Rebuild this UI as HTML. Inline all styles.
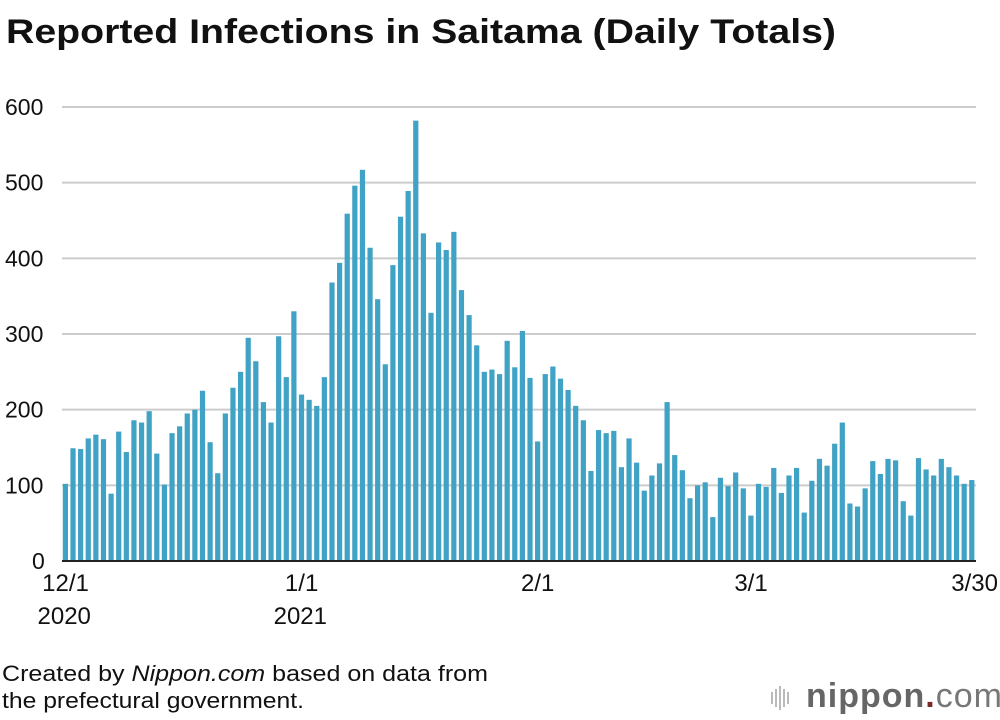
<!DOCTYPE html>
<html><head><meta charset="utf-8">
<style>
body{margin:0;background:#fff;width:1000px;height:720px;overflow:hidden;font-family:"Liberation Sans",sans-serif;}
svg{display:block}
</style></head>
<body>
<svg id="chart" width="1000" height="720">
<text x="6" y="43" font-size="34" font-weight="bold" fill="#111" textLength="830" lengthAdjust="spacingAndGlyphs">Reported Infections in Saitama (Daily Totals)</text>
<g id="grid"></g>
<g id="bars"></g>
<g id="xlabels"></g>
<line x1="62" x2="976" y1="561" y2="561" stroke="#222" stroke-width="2"/>
<text x="2" y="681" font-size="22" fill="#111" textLength="486" lengthAdjust="spacingAndGlyphs">Created by <tspan font-style="italic">Nippon.com</tspan> based on data from</text>
<text x="2" y="708" font-size="22" fill="#111" textLength="302" lengthAdjust="spacingAndGlyphs">the prefectural government.</text>
<g>
<g fill="#bbb"><rect x="771" y="692" width="2" height="12"/><rect x="775" y="689" width="2" height="18"/><rect x="779" y="686" width="2" height="24"/><rect x="783" y="689" width="2" height="18"/><rect x="787" y="692" width="2" height="12"/></g>
<text x="806" y="707" font-size="34" fill="#666" font-weight="bold" letter-spacing="1">nippon<tspan fill="#7a2a2a">.</tspan><tspan font-weight="normal" fill="#777">com</tspan></text>
</g>
</svg>
<script>
const values=[102,149,148,162,167,161,89,171,144,186,183,198,142,101,169,178,195,200,225,157,116,195,229,250,295,264,210,183,297,243,330,220,213,205,243,368,394,459,496,517,414,346,260,391,455,489,582,433,328,421,411,435,358,325,285,250,253,247,291,256,304,242,158,247,257,241,226,205,186,119,173,169,172,124,162,130,93,113,129,210,140,120,83,100,104,58,110,99,117,96,60,102,98,123,90,113,123,64,106,135,126,155,183,76,72,96,132,115,135,133,79,60,136,121,113,135,124,113,102,107];
const yTicks=[0,100,200,300,400,500,600];
const xLabels=[["12/1","2020",0],["1/1","2021",31],["2/1","",62],["3/1","",90],["3/30","",119]];
const NS="http://www.w3.org/2000/svg";
const x0=62,x1=976,pitch=(x1-x0)/values.length,bw=5.2;
function xs(i){return x0+i*pitch;}
function ys(v){return 561-v*454/600;}
const grid=document.getElementById('grid'),bars=document.getElementById('bars'),xl=document.getElementById('xlabels');
yTicks.forEach(t=>{
 if(t>0){const l=document.createElementNS(NS,'line');
 l.setAttribute('x1',x0);l.setAttribute('x2',x1);l.setAttribute('y1',ys(t));l.setAttribute('y2',ys(t));
 l.setAttribute('stroke','#ccc');l.setAttribute('stroke-width','2');
 
 
 grid.appendChild(l);}
 const tx=document.createElementNS(NS,'text');
 tx.setAttribute('x',t===0?32:5);tx.setAttribute('y',ys(t)+8);tx.setAttribute('font-size','23');tx.setAttribute('fill','#111');
 tx.textContent=t;
 
 
 grid.appendChild(tx);
});
values.forEach((v,i)=>{
 const r=document.createElementNS(NS,'rect');
 r.setAttribute('x',xs(i)+0.8);r.setAttribute('width',bw);r.setAttribute('y',ys(v));r.setAttribute('height',561-ys(v));
 r.setAttribute('fill','#40a2c4');
 
 
 bars.appendChild(r);
});
xLabels.forEach(([a,b,i])=>{
 const cx=xs(i)+3.5;
 const t=document.createElementNS(NS,'text');
 t.setAttribute('x',i===119?998:cx);t.setAttribute('y',591);t.setAttribute('font-size','24');t.setAttribute('fill','#111');
 t.setAttribute('text-anchor',i===119?'end':'middle');
 t.textContent=a;
 
 
 xl.appendChild(t);
 if(b){const t2=document.createElementNS(NS,'text');
 t2.setAttribute('x',cx-28);t2.setAttribute('y',624);t2.setAttribute('font-size','24');t2.setAttribute('fill','#111');
 t2.textContent=b;
 
 
 xl.appendChild(t2);}
});
</script>
</body></html>
